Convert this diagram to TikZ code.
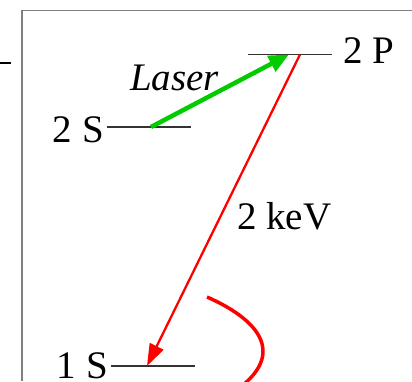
\documentclass[tikz,border=0pt]{standalone}
\usepackage{fontspec}
\setmainfont{Liberation Serif}
\usetikzlibrary{arrows.meta}

\tikzset{
  level/.style={line width=1.3pt, black!80},
  lbl/.style={inner sep=0pt, font=\fontsize{39}{39}\selectfont},
}

\begin{document}
\begin{tikzpicture}[x=1pt, y=-1pt]
    \useasboundingbox (0,0) rectangle (412,381);
    \clip (0,0) rectangle (412,381);

    % Frame
    \draw[gray, line width=1.5pt] (22,381) -- (22,10.5) -- (412,10.5);
    \draw[black, line width=1.3pt] (0,63) -- (11,63);

    % Levels
    \coordinate (p2a) at (248,54.5);  \coordinate (p2b) at (332,54.5);
    \coordinate (s2a) at (107,127);   \coordinate (s2b) at (191,127);
    \coordinate (s1a) at (111,366);   \coordinate (s1b) at (195,366);
    \draw[level] (p2a) -- (p2b);
    \draw[level] (s2a) -- (s2b);
    \draw[level] (s1a) -- (s1b);
    \node[lbl, anchor=base west] (l2P) at (343,63) {2 P};
    \node[lbl, anchor=base east] (l2S) at (104,142) {2 S};
    \node[lbl, anchor=base east] (l1S) at (108,378) {1 S};

    % Laser excitation 2S -> 2P
    \coordinate (gstart) at (151,127);
    \coordinate (gend) at (289,54.5);
    \draw[green!80!black, line width=4.5pt, -{Triangle[length=20pt, width=17pt]}] (gstart) -- (gend);
    \node[lbl, anchor=base west, font=\fontsize{39}{39}\selectfont\itshape] (laser) at (130,90) {Laser};

    % X-ray 2P -> 1S
    \coordinate (rstart) at (300,54.5);
    \coordinate (rend) at (147,366);
    \draw[red, line width=2.3pt, -{Triangle[length=22pt, width=15pt]}] (rstart) -- (rend);
    \node[lbl, anchor=base west] (kev) at (237,229) {2 keV};

    % curve
    \coordinate (cstart) at (207,297);
    \coordinate (cend) at (243,385);
    \draw[red, line width=3.5pt] (cstart) .. controls (255,318) and (285,350) .. (cend);
\end{tikzpicture}
\end{document}
